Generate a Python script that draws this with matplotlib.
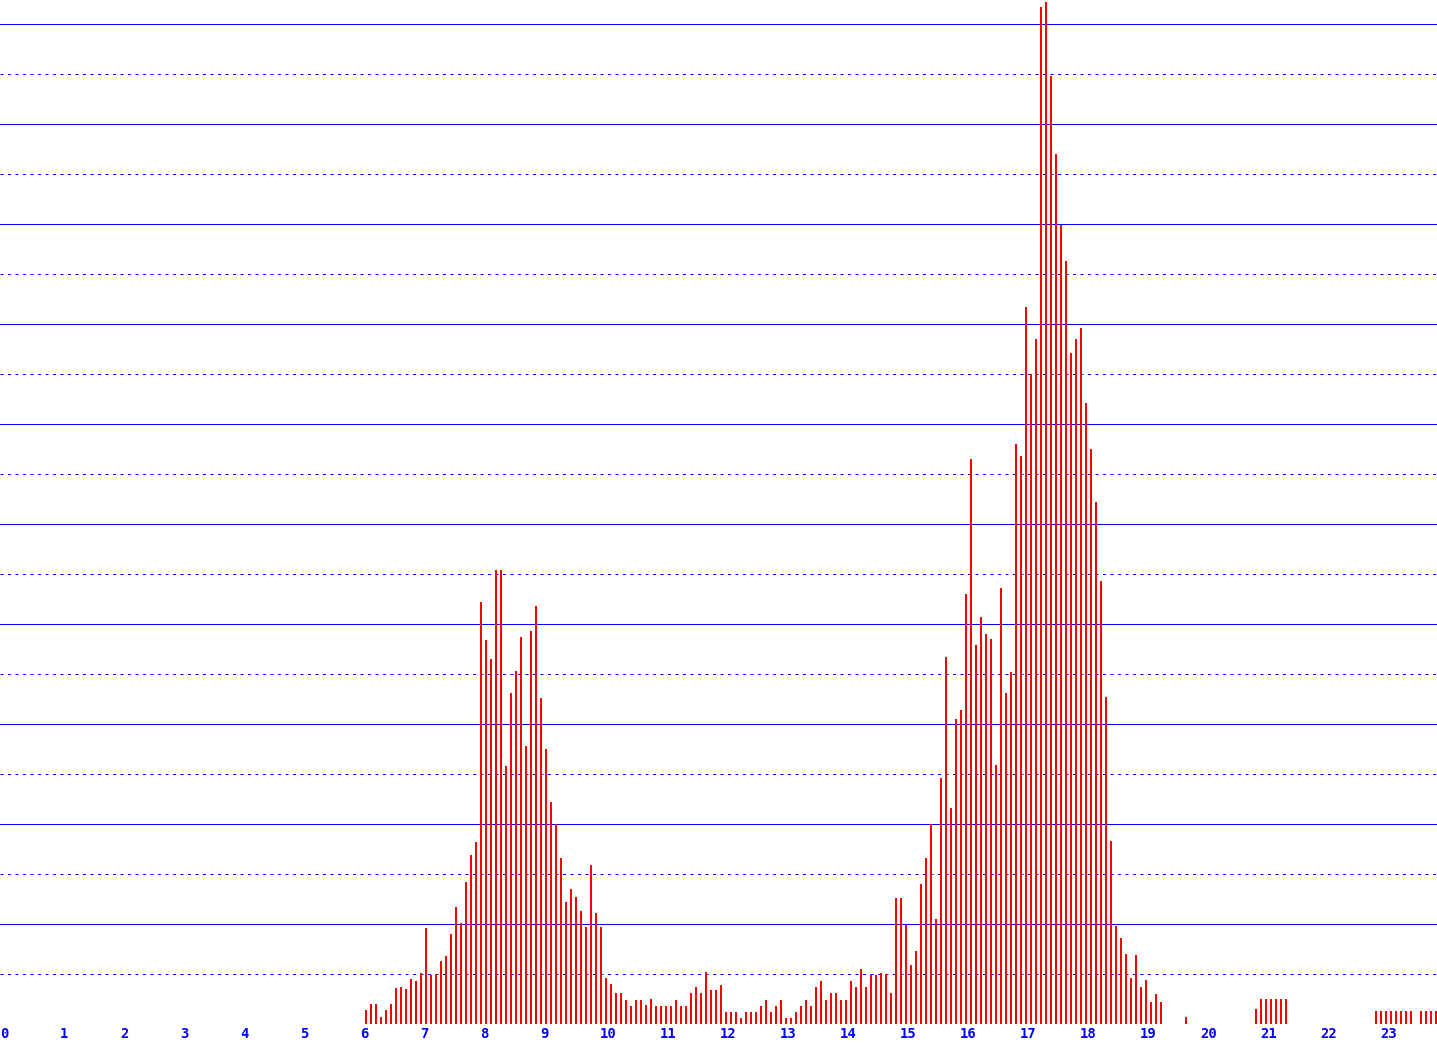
import matplotlib
matplotlib.use("Agg")
import matplotlib.pyplot as plt
import numpy as np

# arrivals per 5-minute slot, one row per hour (00:00 .. 23:55)
counts = [
    0, 0, 0, 0, 0, 0, 0, 0, 0, 0, 0, 0,                              # 0
    0, 0, 0, 0, 0, 0, 0, 0, 0, 0, 0, 0,                              # 1
    0, 0, 0, 0, 0, 0, 0, 0, 0, 0, 0, 0,                              # 2
    0, 0, 0, 0, 0, 0, 0, 0, 0, 0, 0, 0,                              # 3
    0, 0, 0, 0, 0, 0, 0, 0, 0, 0, 0, 0,                              # 4
    0, 0, 0, 0, 0, 0, 0, 0, 0, 0, 0, 0,                              # 5
    0, 14, 20, 20, 7, 14, 20, 36, 37, 35, 45, 43,                    # 6
    51, 96, 49, 50, 63, 68, 90, 117, 101, 142, 169, 182,             # 7
    422, 384, 365, 454, 454, 258, 331, 353, 387, 278, 393, 418,      # 8
    326, 275, 222, 200, 166, 122, 135, 127, 113, 97, 159, 111,       # 9
    97, 46, 40, 31, 31, 24, 18, 24, 24, 19, 25, 18,                  # 10
    18, 18, 18, 24, 18, 18, 31, 37, 31, 52, 34, 34,                  # 11
    39, 12, 12, 12, 6, 12, 12, 12, 18, 24, 12, 18,                   # 12
    24, 6, 6, 12, 18, 24, 18, 37, 43, 24, 31, 31,                    # 13
    24, 24, 43, 37, 55, 37, 49, 49, 51, 50, 31, 126,                 # 14
    126, 99, 59, 73, 140, 166, 200, 105, 246, 367, 216, 305,         # 15
    314, 430, 565, 379, 407, 390, 385, 259, 436, 331, 352, 580,      # 16
    568, 717, 650, 685, 1017, 1022, 948, 870, 799, 763, 671, 685,    # 17
    696, 621, 575, 522, 443, 327, 183, 98, 86, 70, 46, 69,           # 18
    37, 44, 22, 30, 22, 0, 0, 0, 0, 7, 0, 0,                         # 19
    0, 0, 0, 0, 0, 0, 0, 0, 0, 0, 0, 15,                             # 20
    25, 25, 25, 25, 25, 25, 0, 0, 0, 0, 0, 0,                        # 21
    0, 0, 0, 0, 0, 0, 0, 0, 0, 0, 0, 13,                             # 22
    13, 13, 13, 13, 13, 13, 13, 0, 13, 13, 13, 13,                   # 23
]
hours = list(range(24))
hour_labels = [str(h) for h in hours]

W, H, DPI = 1437, 1044, 100
fig = plt.figure(figsize=(W / DPI, H / DPI), dpi=DPI)
ax = fig.add_axes([0, 20 / H, 1, 1024 / H])

slots = np.arange(len(counts)) / 12.0
ax.bar(slots, counts, width=2 / 60, align='edge', color='#ff0000',
       linewidth=0, antialiased=False, zorder=3)

# horizontal grid: solid every 100, dotted in between
px = 0.72
for y in range(50, 1024, 50):
    if y % 100 == 0:
        ax.axhline(y, color='#0000ff', lw=px, zorder=1)
    else:
        ax.axhline(y, color='#0000ff', lw=px, dashes=(3, 4.5), zorder=1)
ax.axhline(0, color='#0000ff', lw=px, zorder=4)

ax.set_xlim(0, W / 60)
ax.set_ylim(0, 1024)
for s in ax.spines.values():
    s.set_visible(False)
ax.set_yticks([])
ax.set_xticks([])
for h, lab in zip(hours, hour_labels):
    ax.text(h, -3, lab, ha='left', va='top', color='#0000ff',
            fontsize=10, fontweight='bold', family='DejaVu Sans Mono')

fig.savefig('out.png', dpi=DPI)
